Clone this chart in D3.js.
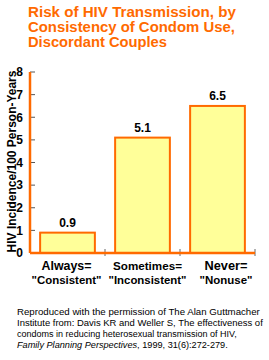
<!DOCTYPE html>
<html>
<head>
<meta charset="utf-8">
<script src="https://cdn.jsdelivr.net/npm/d3@7"></script>
<style>
  body { margin: 0; background: #fff; }
  svg { display: block; font-family: "Liberation Sans", Arial, sans-serif; }
</style>
</head>
<body>
<div id="chart"></div>
<script>
// Data
const categories = ['Always', 'Sometimes', 'Never'];
const categoryLines = [
    ['Always=', '"Consistent"'],
    ['Sometimes=', '"Inconsistent"'],
    ['Never=', '"Nonuse"']
];
const incidence = [0.9, 5.1, 6.5];
const yTicks = [0, 1, 2, 3, 4, 5, 6, 7, 8];
const titleLines = [
    'Risk of HIV Transmission, by',
    'Consistency of Condom Use,',
    'Discordant Couples'
];
const noteLines = [
    'Reproduced with the permission of The Alan Guttmacher',
    'Institute from: Davis KR and Weller S, The effectiveness of',
    'condoms in reducing heterosexual transmission of HIV,'
];

const orange = '#ff6a00';
const width = 269, height = 360;
const margin = { top: 72, right: 14, bottom: 107, left: 30 };
const innerW = width - margin.left - margin.right;
const innerH = height - margin.top - margin.bottom;

// shrink or grow a text's font so it spans the wanted width
function fitWidth(sel, target) {
    const node = sel.node();
    const size = parseFloat(sel.style('font-size'));
    const w = node.getComputedTextLength();
    if (w > 0) sel.style('font-size', (size * target / w).toFixed(2) + 'px');
}

const svg = d3.select('#chart').append('svg')
    .attr('width', width)
    .attr('height', height);

// Title
const titleWidths = [208, 207, 139];
titleLines.forEach((line, i) => {
    const t = svg.append('text')
        .attr('x', 28)
        .attr('y', 17 + i * 15)
        .style('font-size', '14px')
        .style('font-weight', '700')
        .style('fill', orange)
        .text(line);
    fitWidth(t, titleWidths[i]);
});

const g = svg.append('g')
    .attr('transform', `translate(${margin.left},${margin.top})`);

const x = d3.scaleBand()
    .domain(categories)
    .range([0, innerW])
    .paddingInner(0.27)
    .paddingOuter(0.135);

const y = d3.scaleLinear()
    .domain([0, 8])
    .range([innerH, 0]);

// Y axis labels
const yAxis = g.append('g')
    .call(d3.axisLeft(y).tickValues(yTicks).tickSize(0).tickPadding(7));
yAxis.select('.domain').remove();
yAxis.selectAll('text')
    .style('font-size', '12px')
    .style('font-weight', '700')
    .style('fill', '#000')
    .style('font-family', '"Liberation Sans", Arial, sans-serif');

// inward tick marks
g.selectAll('.ytick')
    .data(yTicks.filter(d => d > 0))
    .enter()
    .append('line')
    .attr('class', 'ytick')
    .attr('x1', 0)
    .attr('x2', 5)
    .attr('y1', d => y(d))
    .attr('y2', d => y(d))
    .attr('stroke', '#555')
    .attr('stroke-width', 1);

// bottom tick marks between groups
const xBounds = categories.slice(1).map(c => x(c) - x.step() * x.paddingInner() / 2);
xBounds.push(innerW);
g.selectAll('.xtick')
    .data(xBounds)
    .enter()
    .append('line')
    .attr('x1', d => d)
    .attr('x2', d => d)
    .attr('y1', innerH - 4)
    .attr('y2', innerH + 3)
    .attr('stroke', '#666')
    .attr('stroke-width', 1);

// Bars
g.selectAll('.bar')
    .data(incidence)
    .enter()
    .append('rect')
    .attr('class', 'bar')
    .attr('x', (d, i) => x(categories[i]))
    .attr('y', d => y(d))
    .attr('width', x.bandwidth())
    .attr('height', d => innerH - y(d))
    .attr('fill', '#ffff99')
    .attr('stroke', orange)
    .attr('stroke-width', 2);

// Axis lines (orange)
g.append('line')
    .attr('x1', 0).attr('x2', 0)
    .attr('y1', y(8)).attr('y2', innerH)
    .attr('stroke', orange).attr('stroke-width', 2.5);
g.append('line')
    .attr('x1', 0).attr('x2', innerW)
    .attr('y1', innerH).attr('y2', innerH)
    .attr('stroke', orange).attr('stroke-width', 2.5);

// Value labels
g.selectAll('.value-label')
    .data(incidence)
    .enter()
    .append('text')
    .attr('x', (d, i) => x(categories[i]) + x.bandwidth() / 2)
    .attr('y', d => y(d) - 6)
    .attr('text-anchor', 'middle')
    .style('font-size', '12px')
    .style('font-weight', '700')
    .text(d => d.toFixed(1));

// Category labels (slightly right of bar centres in the original)
const catWidths = [[50, 70], [69, 78], [43, 53]];
const catShift = [-1, 5, 8.5];
categoryLines.forEach((lines, i) => {
    const cx = x(categories[i]) + x.bandwidth() / 2 + catShift[i];
    lines.forEach((line, j) => {
        const t = g.append('text')
            .attr('x', cx)
            .attr('y', innerH + 17 + j * 14)
            .attr('text-anchor', 'middle')
            .style('font-size', '12px')
            .style('font-weight', '700')
            .text(line);
        fitWidth(t, catWidths[i][j]);
    });
});

// Y axis title
const yTitle = svg.append('text')
    .attr('transform', `translate(16,${margin.top + innerH / 2 - 1}) rotate(-90)`)
    .attr('text-anchor', 'middle')
    .style('font-size', '11px')
    .style('font-weight', '700')
    .text('HIV Incidence/100 Person-Years');
fitWidth(yTitle, 182);

// Footnote
const noteWidths = [243, 246, 220];
noteLines.forEach((line, i) => {
    const t = svg.append('text')
        .attr('x', 17)
        .attr('y', 315 + i * 11)
        .style('font-size', '9.5px')
        .text(line);
    fitWidth(t, noteWidths[i]);
});
const last = svg.append('text')
    .attr('x', 17)
    .attr('y', 315 + 3 * 11)
    .style('font-size', '9.5px');
last.append('tspan')
    .style('font-style', 'italic')
    .text('Family Planning Perspectives');
last.append('tspan')
    .text(', 1999, 31(6):272-279.');
fitWidth(last, 211);
</script>
</body>
</html>
